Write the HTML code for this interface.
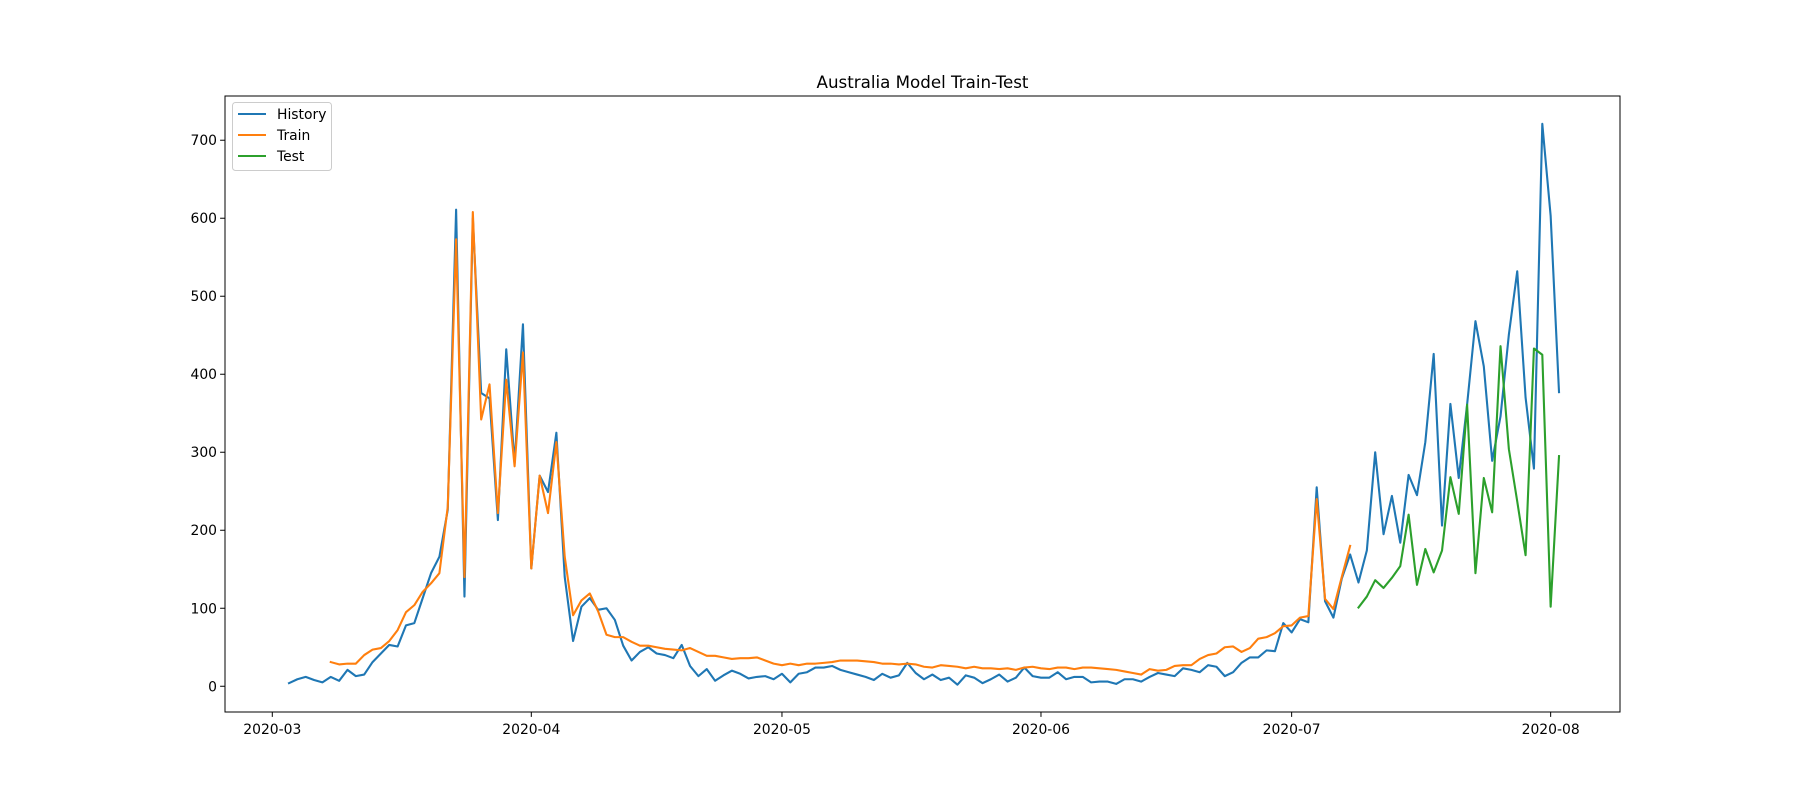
<!DOCTYPE html>
<html><head><meta charset="utf-8"><style>
html,body{margin:0;padding:0;background:#fff;}
svg{display:block;font-family:"DejaVu Sans","Liberation Sans",sans-serif;}
</style></head><body>
<svg id="chart" width="1800" height="800" viewBox="0 0 1800 800"></svg>
<script>
const historyStart = "2020-03-03";
const historyValues = [4,9,12,8,5,12,7,21,13,15,31,42,53,51,78,81,113,145,166,226,611,115,600,376,369,213,432,286,464,
151,270,249,325,140,58,102,113,98,
100,85,52,33,44,50,42,40,36,53,26,13,22,7,14,20,16,10,12,13,9,
16,5,16,18,24,24,26,21,18,15,12,8,16,11,14,30,17,9,15,8,11,2,14,11,4,9,15,6,11,24,13,
11,11,18,9,12,12,5,6,6,3,9,9,6,12,17,15,13,23,21,18,27,25,13,18,30,37,37,46,45,81,
69,86,82,255,109,88,138,169,133,174,300,195,244,184,271,245,313,426,206,362,267,361,468,410,289,346,451,532,370,279,721,603,377];
const trainStart = "2020-03-08";
const trainValues = [31,28,29,29,40,47,49,58,72,95,104,121,132,145,230,573,140,608,342,387,222,393,282,428,
151,270,222,313,166,91,110,119,96,
66,63,63,57,52,52,50,48,47,46,49,44,39,39,37,35,36,36,37,33,29,
27,29,27,29,29,30,31,33,33,33,32,31,29,29,28,29,28,25,24,27,26,25,23,25,23,23,22,23,21,24,25,
23,22,24,24,22,24,24,23,22,21,19,17,15,22,20,21,26,27,27,35,40,42,50,51,44,49,61,63,68,77,
78,88,90,240,112,99,140,180];
const testStart = "2020-07-09";
const testValues = [101,115,136,126,139,154,220,130,176,146,174,268,221,361,145,267,223,436,304,237,168,433,425,102,295];
const xTickLabels = ["2020-03","2020-04","2020-05","2020-06","2020-07","2020-08"];
const yTickValues = [0,100,200,300,400,500,600,700];

const NS="http://www.w3.org/2000/svg";
const svg=document.getElementById('chart');
const L=225,R=1620,T=96,B=712;
const base=Date.UTC(2020,2,1);
function dayOf(s){const p=s.split('-').map(Number);return (Date.UTC(p[0],p[1]-1,p[2]||1)-base)/86400000;}
const xMin=-5.66,xMax=161.3,yMin=-33,yMax=756.7;
function X(d){return L+(d-xMin)/(xMax-xMin)*(R-L);}
function Y(v){return B-(v-yMin)/(yMax-yMin)*(B-T);}
function mk(tag,attrs){const e=document.createElementNS(NS,tag);for(const k in attrs)e.setAttribute(k,attrs[k]);svg.appendChild(e);return e;}

let t=mk('text',{x:(L+R)/2,y:88,'text-anchor':'middle','font-size':'16.7'});
t.textContent="Australia Model Train-Test";



xTickLabels.forEach(lb=>{
  const x=X(dayOf(lb));
  const tk=mk('line',{x1:x,x2:x,y1:B,y2:B+4.9,stroke:'#000','stroke-width':1});
  
  
  const tx=mk('text',{x:x,y:B+22,'text-anchor':'middle','font-size':'13.9'});
  tx.textContent=lb;
  
  
});
yTickValues.forEach(v=>{
  const y=Y(v);
  const tk=mk('line',{x1:L-4.9,x2:L,y1:y,y2:y,stroke:'#000','stroke-width':1});
  
  
  const tx=mk('text',{x:L-8,y:y+5,'text-anchor':'end','font-size':'13.9'});
  tx.textContent=String(v);
  
  
});

function series(start,vals,color,name){
  const d0=dayOf(start);
  const pts=vals.map((v,i)=>X(d0+i).toFixed(2)+','+Y(v).toFixed(2)).join(' ');
  const pl=mk('polyline',{points:pts,fill:'none',stroke:color,'stroke-width':2.1,'stroke-linejoin':'round','stroke-linecap':'square'});
  
  
}
series(historyStart,historyValues,'#1f77b4','history-line');
series(trainStart,trainValues,'#ff7f0e','train-line');
series(testStart,testValues,'#2ca02c','test-line');

const fr=mk('rect',{x:L,y:T,width:R-L,height:B-T,fill:'none',stroke:'#000','stroke-width':1});



const lg=mk('rect',{x:232.5,y:102.5,width:99,height:68,rx:3,fill:'#fff','fill-opacity':0.8,stroke:'#ccc','stroke-width':1});


[['History','#1f77b4',114],['Train','#ff7f0e',135],['Test','#2ca02c',156]].forEach(e=>{
  const ln=mk('line',{x1:238,x2:266,y1:e[2],y2:e[2],stroke:e[1],'stroke-width':2.1});
  
  
  const tx=mk('text',{x:277,y:e[2]+5,'font-size':'13.9'});
  tx.textContent=e[0];
  
  
});
</script>
</body></html>
